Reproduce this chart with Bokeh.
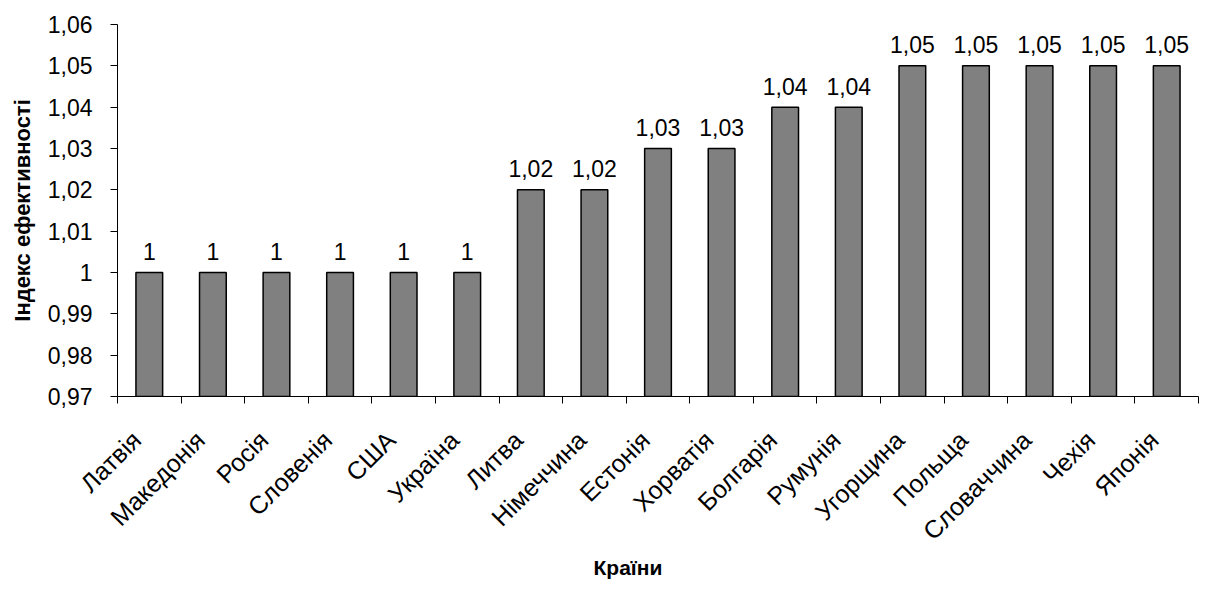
import math
from bokeh.plotting import figure
from bokeh.models import ColumnDataSource, FixedTicker, CustomJSTickFormatter, Title
from bokeh.core.properties import value
from bokeh.embed import file_html
from bokeh.resources import INLINE

countries = ["Латвія", "Македонія", "Росія", "Словенія", "США", "Україна",
             "Литва", "Німеччина", "Естонія", "Хорватія", "Болгарія",
             "Румунія", "Угорщина", "Польща", "Словаччина", "Чехія", "Японія"]
index_values = [1.00, 1.00, 1.00, 1.00, 1.00, 1.00,
                1.02, 1.02, 1.03, 1.03, 1.04,
                1.04, 1.05, 1.05, 1.05, 1.05, 1.05]
y_ticks = [0.97, 0.98, 0.99, 1.00, 1.01, 1.02, 1.03, 1.04, 1.05, 1.06]


def fmt(v):
    s = ("%.2f" % v).rstrip("0").rstrip(".")
    return s.replace(".", ",")


FONT = "Liberation Sans"
n = len(countries)
centers = [i + 0.5 for i in range(n)]
# slanted names sit slightly left of the bar centre
label_pos = [c - 0.2 for c in centers]
bottom_val = y_ticks[0]

src = ColumnDataSource(dict(
    x=centers,
    top=index_values,
    bottom=[bottom_val] * n,
    label=[fmt(v) for v in index_values],
))

p = figure(width=1205, height=596, output_backend="svg", toolbar_location=None,
           x_range=(0, n), y_range=(y_ticks[0], y_ticks[-1]),
           min_border_left=117, min_border_right=7, min_border_top=24,
           min_border_bottom=200)
p.outline_line_color = None
p.xgrid.visible = False
p.ygrid.visible = False
p.background_fill_color = "white"
p.border_fill_color = "white"

p.vbar(x="x", width=0.42, top="top", bottom="bottom", source=src,
       fill_color="#808080", line_color="black", line_width=1.5)

p.text(x="x", y="top", text="label", source=src, y_offset=-21,
       text_align="center", text_baseline="alphabetic",
       text_font=value(FONT), text_font_size="23px", text_color="black")

# x axis: country names under the bars, tick marks between bars
xa = p.xaxis[0]
xa.ticker = FixedTicker(ticks=label_pos, minor_ticks=list(range(n + 1)))
xa.major_label_overrides = {c: name for c, name in zip(label_pos, countries)}
xa.major_label_orientation = math.pi / 4
xa.major_tick_out = 0
xa.major_tick_in = 0
xa.minor_tick_out = 7
xa.minor_tick_in = 0
xa.minor_tick_line_color = "black"
xa.axis_line_color = "black"
xa.major_label_text_font = FONT
xa.major_label_text_font_size = "25px"
xa.major_label_text_color = "black"
xa.major_label_standoff = 32

# x axis title below the slanted names, left of the frame centre
p.add_layout(Title(text="Країни", align="left", offset=476, standoff=-7,
                   text_font=FONT, text_font_style="bold",
                   text_font_size="21px", text_color="black"), "below")

ya = p.yaxis[0]
ya.ticker = FixedTicker(ticks=y_ticks, minor_ticks=[])
ya.formatter = CustomJSTickFormatter(
    code="return (Math.round(tick * 100) / 100).toString().replace('.', ',');")
ya.major_tick_out = 7
ya.major_tick_in = 0
ya.major_tick_line_color = "black"
ya.axis_line_color = "black"
ya.major_label_text_font = FONT
ya.major_label_text_font_size = "23px"
ya.major_label_text_color = "black"
ya.major_label_standoff = 18
ya.axis_label = "Індекс ефективності"
ya.axis_label_text_font = FONT
ya.axis_label_text_font_style = "bold"
ya.axis_label_text_font_size = "22px"
ya.axis_label_text_color = "black"
ya.axis_label_standoff = 10

open("out.html", "w").write(file_html(p, INLINE))
